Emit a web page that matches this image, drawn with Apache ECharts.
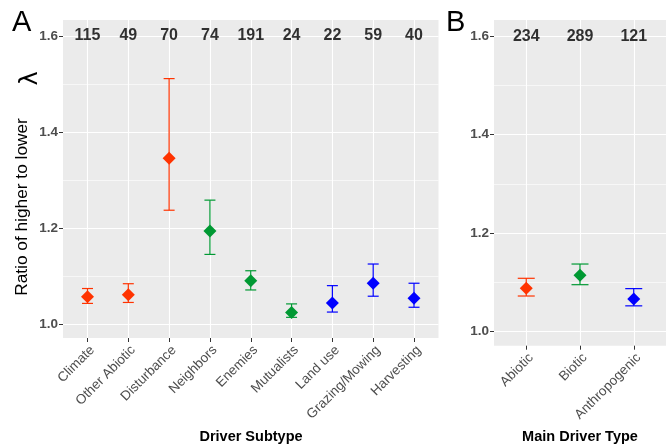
<!DOCTYPE html>
<html>
<head>
<meta charset="utf-8">
<script src="https://cdn.jsdelivr.net/npm/echarts@6/dist/echarts.min.js"></script>
<style>
  html, body { margin: 0; padding: 0; background: #fff; }
  #chart { width: 671px; height: 447px; }
</style>
</head>
<body>
<div id="chart"></div>
<script>
// panel A: driver subtypes
var subtypes = ['Climate', 'Other Abiotic', 'Disturbance', 'Neighbors', 'Enemies', 'Mutualists', 'Land use', 'Grazing/Mowing', 'Harvesting'];
var subMean  = [1.057, 1.061, 1.345, 1.194, 1.090, 1.024, 1.044, 1.085, 1.054];
var subLower = [1.043, 1.045, 1.237, 1.145, 1.071, 1.014, 1.025, 1.058, 1.035];
var subUpper = [1.074, 1.084, 1.511, 1.258, 1.111, 1.042, 1.080, 1.125, 1.085];
var subN     = [115, 49, 70, 74, 191, 24, 22, 59, 40];
var subGroup = [0, 0, 0, 1, 1, 1, 2, 2, 2];

// panel B: main driver types
var types     = ['Abiotic', 'Biotic', 'Anthropogenic'];
var typeMean  = [1.088, 1.114, 1.066];
var typeLower = [1.072, 1.095, 1.052];
var typeUpper = [1.108, 1.137, 1.087];
var typeN     = [234, 289, 121];
var typeGroup = [0, 1, 2];

var yTicks = [1.0, 1.2, 1.4, 1.6];
var yMinor = [1.1, 1.3, 1.5];
var countY = 1.6;

var colors = ['#FF3300', '#009933', '#0000FF'];
var font = '"Liberation Sans", Arial, Helvetica, sans-serif';
var yMin = 0.971, yMax = 1.633;

function range(n) {
    var a = [];
    for (var i = 0; i < n; i++) a.push(i);
    return a;
}

function xAxisFor(gridIndex, cats) {
    var idx = range(cats.length);
    return {
        type: 'value',
        gridIndex: gridIndex,
        min: -0.6,
        max: cats.length - 1 + 0.6,
        axisLine: { show: false, onZero: false },
        axisTick: { show: true, customValues: idx, length: 4, lineStyle: { color: '#333333', width: 1 } },
        axisLabel: {
            customValues: idx,
            rotate: 45,
            margin: 5,
            align: 'right',
            verticalAlign: 'top',
            color: '#4D4D4D',
            fontSize: 13.5,
            fontFamily: font,
            formatter: function (v) { return cats[Math.round(v)]; }
        },
        splitLine: { show: true, lineStyle: { color: '#FFFFFF', width: 1.1 } }
    };
}

function yAxesFor(gridIndex) {
    return [{
        type: 'value',
        gridIndex: gridIndex,
        min: yMin,
        max: yMax,
        axisLine: { show: false, onZero: false },
        axisTick: { show: true, customValues: yTicks, length: 4, lineStyle: { color: '#333333', width: 1 } },
        axisLabel: {
            customValues: yTicks,
            margin: 5,
            color: '#4D4D4D',
            fontSize: 13.5,
            fontWeight: 'bold',
            fontFamily: font,
            formatter: function (v) { return v.toFixed(1); }
        },
        splitLine: { show: true, lineStyle: { color: '#FFFFFF', width: 1.1 } }
    }, {
        // minor grid lines only
        type: 'value',
        gridIndex: gridIndex,
        position: 'left',
        min: yMin,
        max: yMax,
        axisLine: { show: false, onZero: false },
        axisTick: { show: false, customValues: yMinor },
        axisLabel: { show: false, customValues: yMinor },
        splitLine: { show: true, lineStyle: { color: '#FFFFFF', width: 0.6 } }
    }];
}

function errorSeries(axisIdx, mean, lower, upper, group, capPx) {
    var data = mean.map(function (m, i) { return [i, lower[i], upper[i], group[i]]; });
    return {
        type: 'custom',
        xAxisIndex: axisIdx,
        yAxisIndex: axisIdx * 2,
        data: data,
        z: 3,
        renderItem: function (params, api) {
            var x = api.value(0);
            var lo = api.coord([x, api.value(1)]);
            var hi = api.coord([x, api.value(2)]);
            var c = colors[api.value(3)];
            var h = capPx / 2;
            var style = { stroke: c, lineWidth: 1.2, fill: null };
            return {
                type: 'group',
                children: [
                    { type: 'line', shape: { x1: lo[0], y1: lo[1], x2: hi[0], y2: hi[1] }, style: style },
                    { type: 'line', shape: { x1: lo[0] - h, y1: lo[1], x2: lo[0] + h, y2: lo[1] }, style: style },
                    { type: 'line', shape: { x1: hi[0] - h, y1: hi[1], x2: hi[0] + h, y2: hi[1] }, style: style }
                ]
            };
        }
    };
}

function pointSeries(axisIdx, mean, group) {
    return {
        type: 'scatter',
        xAxisIndex: axisIdx,
        yAxisIndex: axisIdx * 2,
        symbol: 'diamond',
        symbolSize: [13, 13],
        z: 4,
        data: mean.map(function (m, i) {
            return { value: [i, m], itemStyle: { color: colors[group[i]], opacity: 1 } };
        })
    };
}

function countSeries(axisIdx, counts) {
    return {
        type: 'scatter',
        xAxisIndex: axisIdx,
        yAxisIndex: axisIdx * 2,
        symbolSize: 1,
        itemStyle: { color: 'rgba(0,0,0,0)' },
        z: 5,
        label: {
            show: true,
            position: 'inside',
            color: '#000',
            fontSize: 16,
            fontWeight: 'bold',
            fontFamily: font,
            formatter: function (p) { return String(counts[p.dataIndex]); }
        },
        data: counts.map(function (n, i) { return [i, countY]; })
    };
}

var chart = echarts.init(document.getElementById('chart'), null, { renderer: 'canvas' });

var option = {
    animation: false,
    backgroundColor: '#FFFFFF',
    grid: [
        { left: 63, top: 20, width: 375.5, height: 318, show: true, backgroundColor: '#EBEBEB', borderWidth: 0 },
        { left: 494, top: 20, width: 172, height: 325.7, show: true, backgroundColor: '#EBEBEB', borderWidth: 0 }
    ],
    xAxis: [xAxisFor(0, subtypes), xAxisFor(1, types)],
    yAxis: yAxesFor(0).concat(yAxesFor(1)),
    series: [
        errorSeries(0, subMean, subLower, subUpper, subGroup, 11),
        pointSeries(0, subMean, subGroup),
        countSeries(0, subN),
        errorSeries(1, typeMean, typeLower, typeUpper, typeGroup, 17),
        pointSeries(1, typeMean, typeGroup),
        countSeries(1, typeN)
    ],
    graphic: [
        { type: 'text', left: 12, top: 8, style: { text: 'A', font: '29px ' + font, fill: '#000' } },
        { type: 'text', left: 446, top: 8, style: { text: 'B', font: '29px ' + font, fill: '#000' } },
        {
            type: 'text', x: 22.5, y: 207, rotation: Math.PI / 2,
            style: { text: 'Ratio of higher to lower', font: '17.3px ' + font, fill: '#000', align: 'center', verticalAlign: 'middle' }
        },
        {
            type: 'text', x: 30.5, y: 78.5, rotation: Math.PI / 2,
            style: { text: '\u03BB', font: '24px "DejaVu Sans", sans-serif', fill: '#000', align: 'center', verticalAlign: 'middle' }
        },
        { type: 'text', x: 251, y: 437, style: { text: 'Driver Subtype', font: 'bold 14.5px ' + font, fill: '#000', align: 'center', verticalAlign: 'middle' } },
        { type: 'text', x: 580, y: 437, style: { text: 'Main Driver Type', font: 'bold 14.5px ' + font, fill: '#000', align: 'center', verticalAlign: 'middle' } }
    ]
};

chart.setOption(option);
window.onresize = chart.resize;
</script>
</body>
</html>
